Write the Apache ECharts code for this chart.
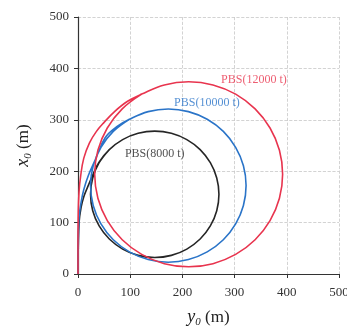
<!DOCTYPE html>
<html>
<head>
<meta charset="utf-8">
<script src="https://cdn.jsdelivr.net/npm/echarts@6/dist/echarts.min.js"></script>
<style>html,body{margin:0;padding:0;background:#fff;}#c{width:347px;height:328px;}</style>
</head>
<body>
<div id="c"></div>
<script>
// Series names
const seriesNames = ['PBS(8000 t)', 'PBS(10000 t)', 'PBS(12000 t)'];
// Trajectories: [y0 (m), x0 (m)] points
const pbs8000 = [
  [0,0],[0.5,50],[2,100],[6,130],[11,150],[18,168],[28,192],[40,217],[60,242],
  [85.5,261.5],[115.2,273.8],[147,278],[178.8,273.8],[208.5,261.5],[234,242],
  [253.5,216.5],[265.8,186.8],[270,155],[265.8,123.2],[253.5,93.5],[234,68],
  [208.5,48.5],[178.8,36.2],[147,32],[115.2,36.2],[85.5,48.5],[60,68],
  [40.5,93.5],[28.2,123.2],[24,155],[28.2,186.8],[40.5,216.5],[60,242]
];
const pbs10000 = [
  [0,0],[0.5,60],[2,110],[6,140],[11,164],[20,192],[33,222],[52,265],[75,287],
  [98.5,301],[134.4,315.9],[173,321],[211.6,315.9],[247.5,301],[278.4,277.4],
  [302,246.5],[316.9,210.6],[322,172],[316.9,133.4],[302,97.5],[278.4,66.6],
  [247.5,43],[211.6,28.1],[173,23],[134.4,28.1],[98.5,43],[67.6,66.6],[44,97.5],
  [29.1,133.4],[24,172],[29.1,210.6],[44,246.5],[67.6,277.4],[98.5,301]
];
const pbs12000 = [
  [0,0],[0,60],[0.5,120],[2,160],[5,190],[11,225],[22,255],[35,277],[50,295],
  [70,316],[95,336],[122,350],[165.4,367.9],[212,374],[258.6,367.9],
  [302,349.9],[339.3,321.3],[367.9,284],[385.9,240.6],[392,194],[385.9,147.4],
  [367.9,104],[339.3,66.7],[302,38.1],[258.6,20.1],[212,14],[165.4,20.1],
  [122,38.1],[84.7,66.7],[56.1,104],[38.1,147.4],[32,194],[38.1,240.6],
  [56.1,284],[84.7,321.3],[122,349.9]
];
// Label anchor points (data coords) for the curve labels
const labelPoints = [[147,234],[247,333],[337,377]];
// Axis ticks
const axisMin = 0, axisMax = 500, axisStep = 100;

const colors = ['#262626', '#2a74c8', '#e8344e'];
const serif = '"Liberation Serif","DejaVu Serif",serif';
const curves = [pbs8000, pbs10000, pbs12000];

const series = curves.map((d, i) => ({
  type: 'line', name: seriesNames[i], data: d, smooth: 0.4,
  showSymbol: false, symbol: 'none',
  lineStyle: { color: colors[i], width: 1.6 }, z: 3, silent: true
}));
labelPoints.forEach((p, i) => {
  series.push({
    type: 'scatter', data: [p], symbolSize: 0, silent: true, z: 5,
    label: { show: true, position: 'inside', formatter: seriesNames[i],
      color: colors[i], fontFamily: serif, fontSize: 12 }
  });
});

const chart = echarts.init(document.getElementById('c'), null, { renderer: 'canvas' });
chart.setOption({
  animation: false,
  backgroundColor: '#fff',
  grid: { left: 78, right: 8, top: 17, bottom: 54, containLabel: false, outerBoundsMode: 'none' },
  xAxis: {
    type: 'value', min: axisMin, max: axisMax, interval: axisStep,
    name: '{i|y}{s|0}{n| (m)}', nameLocation: 'middle', nameGap: 33,
    nameTextStyle: { rich: {
      i: { fontFamily: serif, fontStyle: 'italic', fontSize: 18, color: '#222' },
      s: { fontFamily: serif, fontStyle: 'italic', fontSize: 11, color: '#222', padding: [10,0,0,0] },
      n: { fontFamily: serif, fontSize: 17, color: '#222' } } },
    axisLine: { show: true, lineStyle: { color: '#333', width: 1.2 } },
    axisTick: { show: true, inside: false, length: 4, lineStyle: { color: '#333' } },
    axisLabel: { fontFamily: serif, fontSize: 13, color: '#333', margin: 12 },
    splitLine: { show: true, lineStyle: { color: '#c8c8c8', type: 'dashed', width: 0.8 } }
  },
  yAxis: {
    type: 'value', min: axisMin, max: axisMax, interval: axisStep,
    name: '{i|x}{s|0}{n| (m)}', nameLocation: 'middle', nameGap: 44, nameRotate: 90,
    nameTextStyle: { rich: {
      i: { fontFamily: serif, fontStyle: 'italic', fontSize: 18, color: '#222' },
      s: { fontFamily: serif, fontStyle: 'italic', fontSize: 11, color: '#222', padding: [10,0,0,0] },
      n: { fontFamily: serif, fontSize: 17, color: '#222' } } },
    axisLine: { show: true, lineStyle: { color: '#333', width: 1.2 } },
    axisTick: { show: true, inside: false, length: 4, lineStyle: { color: '#333' } },
    axisLabel: { fontFamily: serif, fontSize: 13, color: '#333', margin: 9 },
    splitLine: { show: true, lineStyle: { color: '#c8c8c8', type: 'dashed', width: 0.8 } }
  },
  series: series
});
</script>
</body>
</html>
